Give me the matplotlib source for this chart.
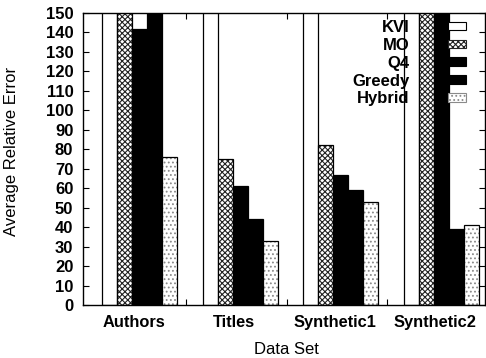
import numpy as np
import matplotlib
matplotlib.use("Agg")
import matplotlib.pyplot as plt
from matplotlib.patches import Patch

plt.rcParams['font.family'] = ['Liberation Sans', 'DejaVu Sans']
plt.rcParams['font.weight'] = 'bold'
plt.rcParams['hatch.linewidth'] = 0.8

datasets = ['Authors', 'Titles', 'Synthetic1', 'Synthetic2']
methods = ['KVI', 'MO', 'Q4', 'Greedy', 'Hybrid']
# values above 150 run off the top of the plot
kvi = [300, 300, 300, 300]
mo = [300, 75, 82, 300]
q4 = [142, 61, 67, 300]
greedy = [300, 44, 59, 39]
hybrid = [76, 33, 53, 41]
series = [kvi, mo, q4, greedy, hybrid]

styles = {
    'KVI': dict(color='white', hatch=None, hcolor='white'),
    'MO': dict(color='white', hatch='xxxxxx', hcolor='#222222'),
    'Q4': dict(color='black', hatch=None, hcolor='black'),
    'Greedy': dict(color='black', hatch=None, hcolor='black'),
    'Hybrid': dict(color='white', hatch='....', hcolor='#8a8a8a'),
}

fig = plt.figure(figsize=(4.86, 3.58), dpi=100)
ax = fig.add_axes([83 / 486, 53 / 358, 402 / 486, 292 / 358])

x = np.arange(len(datasets))
width = 0.15
handles = []
for k, (name, vals) in enumerate(zip(methods, series)):
    st = styles[name]
    pos = x - 0.375 + width * (k + 0.5)
    ax.bar(pos, vals, width, color=st['color'], hatch=st['hatch'],
           edgecolor=st['hcolor'], linewidth=0)
    ax.bar(pos, vals, width, fill=False, edgecolor='black', linewidth=0.9)
    handles.append(Patch(facecolor=st['color'], hatch=st['hatch'],
                         edgecolor=st['hcolor'] if st['hatch'] else 'black',
                         linewidth=0.8, label=name))

ax.set_xlim(-0.565, 3.435)
ax.set_ylim(0, 150)
ax.set_yticks(np.arange(0, 151, 10))
ax.set_xticks(x - 0.06)
ax.set_xticklabels(datasets)
ax.set_xticks(x[:-1] + 0.46, minor=True)
ax.tick_params(axis='x', which='major', length=0, pad=7, labelsize=11.8)
ax.tick_params(axis='x', which='minor', direction='in', length=4,
               top=True, bottom=True, width=0.8)
ax.tick_params(axis='y', direction='in', length=4, left=True, right=True,
               pad=7, labelsize=12, width=0.8)
for s in ax.spines.values():
    s.set_linewidth(1.0)

ax.set_xlabel('Data Set', fontsize=12, fontweight='normal')
ax.set_ylabel('Average Relative Error', fontsize=12, fontweight='normal')
ax.xaxis.set_label_coords(0.505, -0.128)
ax.yaxis.set_label_coords(-0.158, 0.526)

ax.legend(handles=handles, loc='upper right', bbox_to_anchor=(0.953, 0.976),
          frameon=False, markerfirst=False, borderpad=0, borderaxespad=0,
          labelspacing=0.17, handlelength=1.1, handleheight=0.42,
          handletextpad=2.3, fontsize=12)

fig.savefig('out.png', dpi=100)
